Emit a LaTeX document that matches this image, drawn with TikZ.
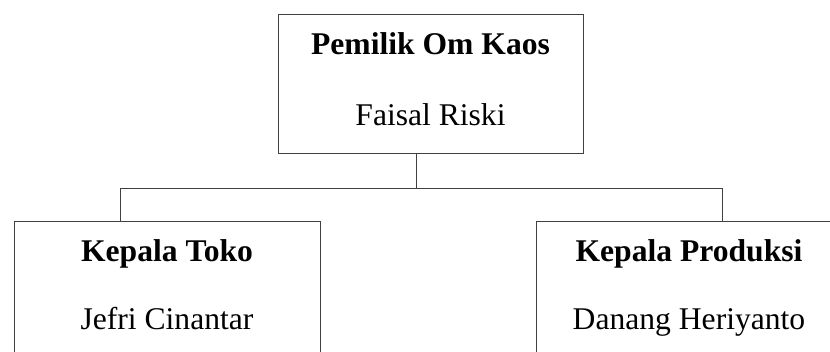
\documentclass[tikz,border=0pt]{standalone}
\usepackage{fontspec}
\setmainfont{Liberation Serif}
\begin{document}
\begin{tikzpicture}[x=0.75pt,y=-0.75pt,
  orgbox/.style={draw=black!75,line width=0.75pt,minimum width=#1*0.75pt,minimum height=139*0.75pt,inner sep=0pt,outer sep=0pt},
  roletext/.style={font=\fontsize{23.7pt}{28pt}\selectfont\bfseries,anchor=base,inner sep=0pt},
  persontext/.style={font=\fontsize{23.7pt}{28pt}\selectfont,anchor=base,inner sep=0pt},
  conn/.style={draw=black!75,line width=0.75pt}]
\useasboundingbox (0,0) rectangle (830,351);
\clip (0,0) rectangle (830,351);
\fill[white] (0,0) rectangle (830,351);
\node[orgbox=305] (top) at (430.5,83.5) {};
\node[orgbox=306] (left) at (167,290.5) {};
\node[orgbox=340] (right) at (706,290.5) {};
\node[roletext] (t1) at (430.5,54) {Pemilik Om Kaos};
\node[persontext] (n1) at (430.5,125) {Faisal Riski};
\node[roletext] (t2) at (167,261) {Kepala Toko};
\node[persontext] (n2) at (167,329) {Jefri Cinantar};
\node[roletext] (t3) at (689,261) {Kepala Produksi};
\node[persontext] (n3) at (689,329) {Danang Heriyanto};
\coordinate (j) at (416,188);
\coordinate (bl) at (120,188);
\coordinate (br) at (722,188);
\draw[conn] (j |- top.south) -- (j);
\draw[conn] (bl |- left.north) -- (bl) -- (br) -- (br |- right.north);
\end{tikzpicture}
\end{document}
